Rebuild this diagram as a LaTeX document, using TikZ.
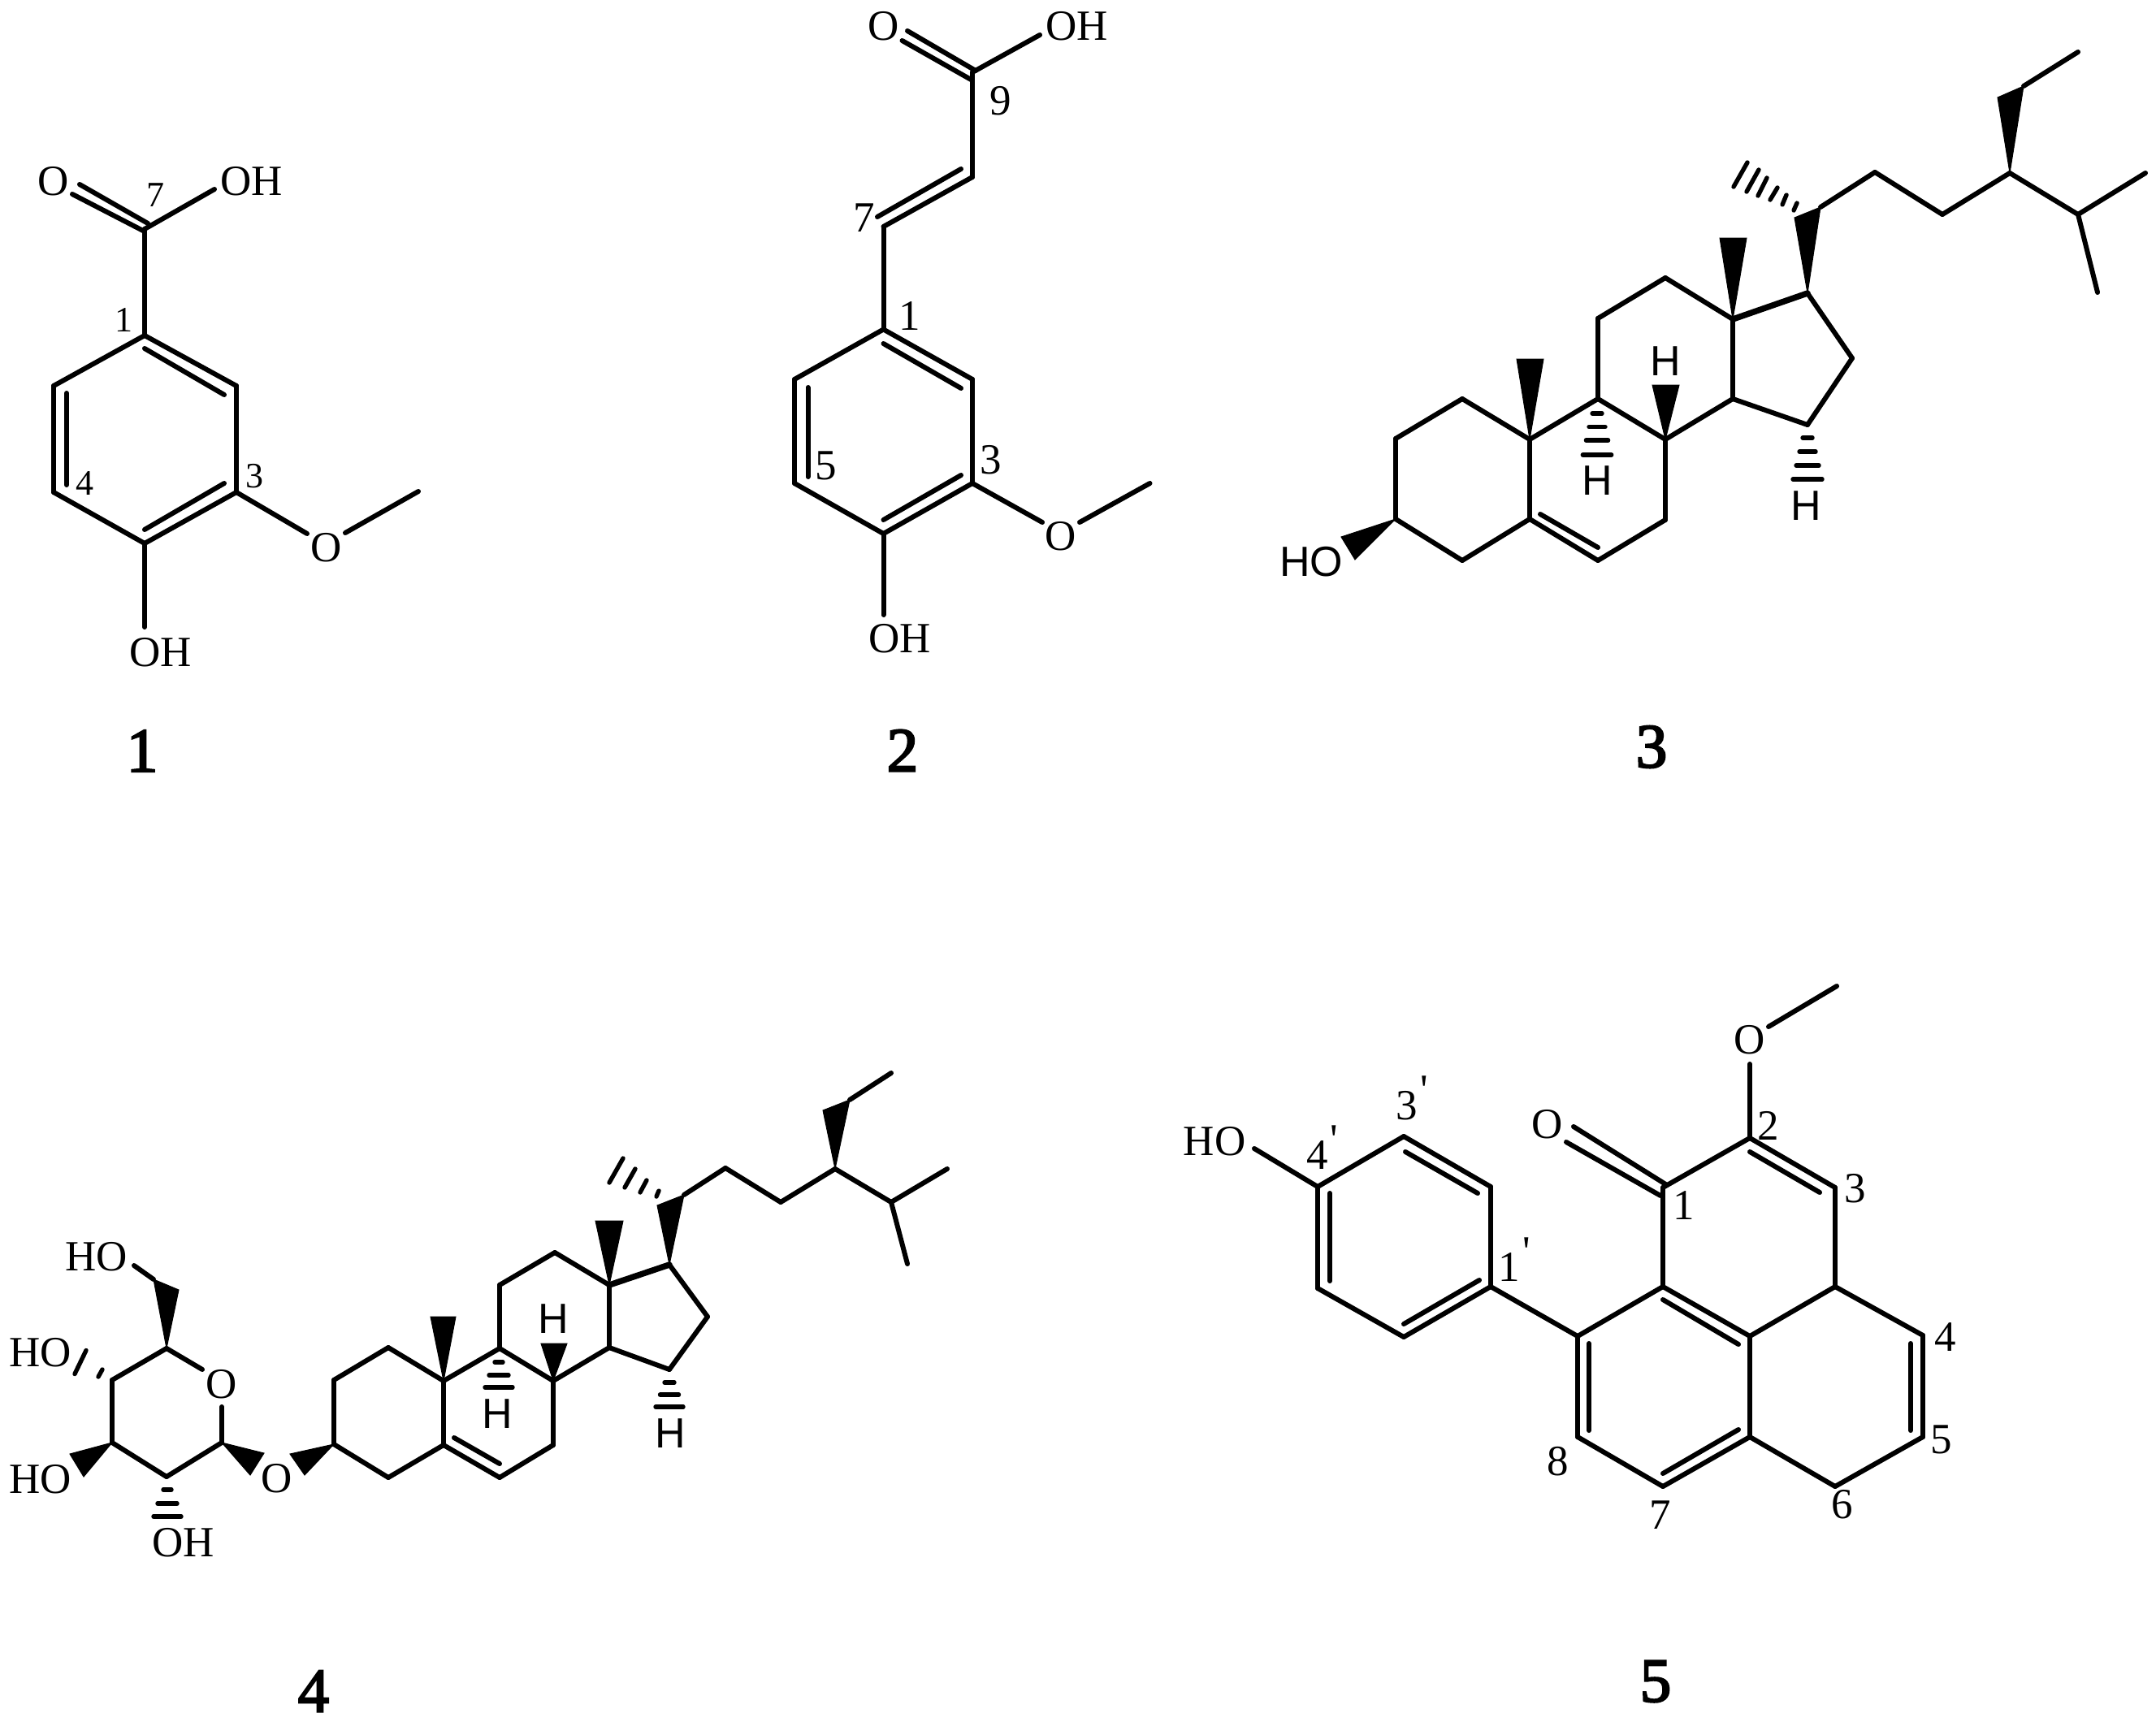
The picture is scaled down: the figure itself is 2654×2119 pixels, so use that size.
\documentclass[tikz,border=0pt]{standalone}
\usepackage{fontspec}
\setmainfont{Liberation Serif}
\newfontfamily\hfont{Liberation Sans}
\newfontfamily\idxfont[FakeBold=3]{Liberation Serif}
\newfontfamily\plainfont[Ligatures=NoCommon]{Liberation Serif}
\newcommand{\prm}{\rlap{\smash{\kern.06em\raisebox{.36em}{\plainfont\symbol{39}}}}}
\tikzset{
  bond/.style={line width=3pt,line cap=round,line join=round,black},
  thick bond/.style={line width=3.7pt,line cap=round,black},
  hash/.style={line width=2.7pt,line cap=round,black},
  wedge/.style={fill=black,draw=black,line width=0.5pt,line join=miter},
  atom/.style={inner sep=0pt,font=\fontsize{26.5}{26.5}\selectfont},
  satom/.style={inner sep=0pt,font=\hfont\fontsize{26}{26}\selectfont},
  num/.style={inner sep=0pt,font=\fontsize{26.5}{26.5}\selectfont},
  smallnum/.style={inner sep=0pt,font=\fontsize{22}{22}\selectfont},
  idx/.style={inner sep=0pt,font=\idxfont\fontsize{38.5}{38.5}\selectfont}
}
\newcommand{\coords}[1]{\foreach \n/\xx/\yy in {#1} {\coordinate (\n) at (\xx,\yy);}}
\newcommand{\bonds}[1]{\foreach \p/\q in {#1} {\draw[bond] (\p) -- (\q);}}
\newcommand{\hashes}[1]{\foreach \p/\q in {#1} {\draw[hash] (\p) -- (\q);}}
\newcommand{\wedges}[1]{\foreach \p/\q/\r in {#1} {\fill[wedge] (\p) -- (\q) -- (\r) -- cycle;}}
\begin{document}
\begin{tikzpicture}[x=0.5pt,y=-0.5pt]
\useasboundingbox (0,0) rectangle (2654,2119);
% ---------- compound 1
\coords{a7/178/282,a1/178/413,a2/291/475,a3/291/606,a4/178/669,a5/66/606,a6/66/475,
 aoa/98/227,aob/89/239,aoc/182/275,aod/178/285,aoh/264/233,
 ame1/378/657,ame2/425/656,ame3/515/605,abot/178/772,
 ai1/178/429,ai2/276/486,ai3/276/595,ai4/178/652,ai5/82/484,ai6/82/597}
\bonds{a7/a1,a1/a2,a2/a3,a3/a4,a4/a5,a5/a6,a6/a1,aoa/aoc,aob/aod,a7/aoh,a3/ame1,ame2/ame3,a4/abot,ai1/ai2,ai3/ai4,ai5/ai6}
\node[atom] (aO) at (66,223) {O};
\node[atom] (aOH) at (310,223) {OH};
\node[atom] (aOm) at (402,674) {O};
\node[atom] (aOHb) at (198,803) {OH};
\node[smallnum] (aL7) at (191,240) {7};
\node[smallnum] (aL1) at (152,394) {1};
\node[smallnum] (aL3) at (313,586) {3};
\node[smallnum] (aL4) at (104,595) {4};
\node[idx] (aI) at (175,924.5) {1};
% ---------- compound 2
\coords{b9/1197/89,b8/1197/218,b7/1087.5/279,b1/1087.5/405.5,b2/1197/467,b3/1197/595,b4/1087.5/657,b5/978/595,b6/978/467,
 boa/1117/38,bob/1110.5/50,boc/1201/87,bod/1197/99,boh/1280/43,
 bi1/1183/208,bi2/1080/267,bi3/1087.5/423,bi4/1183/478,bi5/1183/585,bi6/1087.5/640,bi7/994.5/477,bi8/994.5/587,
 bme1/1283/643,bme2/1329/643,bme3/1415.5/595,bbot/1087.5/757}
\bonds{b9/b8,b8/b7,b7/b1,b1/b2,b2/b3,b3/b4,b4/b5,b5/b6,b6/b1,boa/boc,bob/bod,b9/boh,bi1/bi2,bi3/bi4,bi5/bi6,bi7/bi8,b3/bme1,bme2/bme3,b4/bbot}
\node[atom] (bO) at (1087.5,32.5) {O};
\node[atom] (bOH) at (1325.5,32.5) {OH};
\node[atom] (bOm) at (1306,660) {O};
\node[atom] (bOHb) at (1107.5,786) {OH};
\node[num] (bL9) at (1232,124) {9};
\node[num] (bL7) at (1064,268) {7};
\node[num] (bL1) at (1120,389) {1};
\node[num] (bL3) at (1219.5,566.5) {3};
\node[num] (bL5) at (1017,573) {5};
\node[idx] (bI) at (1111,924) {2};
% ---------- compound 3
\coords{c3/1718/639,c4/1800/690,c5/1883/639,c6/1967/690,c7/2050/640,c8/2050/541,c9/1967/491,c10/1883/541,c1/1800/491,c2/1718/540,
 c11/1967/392,c12/2050/342,c13/2133/393,c14/2133/491,c15/2225/523,c16/2280/441,c17/2225/361,
 c20a/2209/268,c20b/2241/255,c22/2308/212,c23/2391/264,c24/2474/213,c25/2558/264,c26/2641/213,c27/2582/360,
 c28a/2459/120,c28b/2491/106,c29/2558/64,
 cm13a/2117/293,cm13b/2150/293,cm10a/1867/442,cm10b/1900/442,ch8a/2034/474,ch8b/2067/474,
 cho1/1651/661,cho2/1668/689,ci1/1896/633,ci2/1967/674,
 ch11/2151/200,ch12/2134/230,ch21/2165/209,ch22/2150/236,ch31/2175/219,ch32/2164/241,ch41/2188/231,ch42/2179/246,ch51/2199/240,ch52/2194/252,ch61/2212/250,ch62/2208/259,
 cu1/1960/509,cu2/1972/509,cu3/1956/525.5,cu4/1976/525.5,cu5/1952.4/542,cu6/1979.6/542,cu7/1948.3/560,cu8/1983.7/560,
 cv1/2219/539,cv2/2231/539,cv3/2215/556,cv4/2235/556,cv5/2211/573,cv6/2239/573,cv7/2207/590,cv8/2243/590}
\bonds{c3/c4,c4/c5,c5/c6,c6/c7,c7/c8,c8/c9,c9/c10,c10/c5,c10/c1,c1/c2,c2/c3,c9/c11,c11/c12,c12/c13,c13/c14,c14/c8,c14/c15,c15/c16,c16/c17,
 c20b/c22,c22/c23,c23/c24,c24/c25,c25/c26,c25/c27,c28b/c29,ci1/ci2}
\draw[thick bond] (c13) -- (c17);
\wedges{c17/c20a/c20b,c24/c28a/c28b,c13/cm13a/cm13b,c10/cm10a/cm10b,c8/ch8a/ch8b,c3/cho1/cho2}
\hashes{ch11/ch12,ch21/ch22,ch31/ch32,ch41/ch42,ch51/ch52,ch61/ch62,cu1/cu2,cu3/cu4,cu5/cu6,cu7/cu8,cv1/cv2,cv3/cv4,cv5/cv6,cv7/cv8}
\node[satom] (cHa) at (2050,445) {H};
\node[satom] (cHb) at (1966,592) {H};
\node[satom] (cHc) at (2223.5,623) {H};
\node[satom] (cHO) at (1614,692) {HO};
\node[idx] (cI) at (2033,919.5) {3};
% ---------- compound 4
\coords{d3/411/1778,d4/478/1819,d5/546/1779,d6/615/1819,d7/681/1779,d8/681/1700,d9/615/1660,d10/546/1700,d1/478/1659,d2/411/1699,
 d11/615/1582,d12/683/1542,d13/750/1582,d14/750/1659,d15/824/1686,d16/871/1621,d17/824/1557,
 d20a/809/1484,d20b/842/1471,d22/893/1438,d23/961/1480,d24/1028/1439,d25/1097/1480,d26/1166/1439,d27/1117/1556,
 d28a/1013/1367,d28b/1046/1354,d29/1097/1321,
 dm13a/733/1503,dm13b/767/1503,dm10a/530/1621,dm10b/561/1621,dh8a/666/1654,dh8b/698/1654,
 di1/559/1770,di2/615/1802,dox1/357/1790,dox2/375/1816,
 dh11/767/1426,dh12/750/1456,dh21/782/1439,dh22/769/1462,dh31/796/1453,dh32/788/1468,dh41/811/1466,dh42/808/1473,
 du1/609/1677,du2/619/1677,du3/602/1693,du4/626/1693,du5/597/1708,du6/631/1708,
 dv1/818/1702,dv2/830/1702,dv3/812.5/1717,dv4/835.5/1717,dv5/807/1732,dv6/841/1732,
 s1/273/1776,so1/273/1732,so2/249/1686,s5/205/1660,s4/138/1699,s3/138/1776,s2/205/1818,
 sw1a/325/1789,sw1b/308/1816,sw3a/86/1790,sw3b/103/1818,sw5a/189/1575,sw5b/220/1588,sch/165/1558,
 sh21/201/1834,sh22/211/1834,sh23/194/1851,sh24/218/1851,sh25/189/1867,sh26/223/1867,
 sh41/106/1662.5,sh42/92/1691.5,sh43/126/1686,sh44/121/1695}
\bonds{d3/d4,d4/d5,d5/d6,d6/d7,d7/d8,d8/d9,d9/d10,d10/d5,d10/d1,d1/d2,d2/d3,d9/d11,d11/d12,d12/d13,d13/d14,d14/d8,d14/d15,d15/d16,d16/d17,
 d20b/d22,d22/d23,d23/d24,d24/d25,d25/d26,d25/d27,d28b/d29,di1/di2,
 so1/s1,s1/s2,s2/s3,s3/s4,s4/s5,s5/so2,sw5a/sch}
\draw[thick bond] (d13) -- (d17);
\wedges{d17/d20a/d20b,d24/d28a/d28b,d13/dm13a/dm13b,d10/dm10a/dm10b,d8/dh8a/dh8b,d3/dox1/dox2,s1/sw1a/sw1b,s3/sw3a/sw3b,s5/sw5a/sw5b}
\hashes{dh11/dh12,dh21/dh22,dh31/dh32,dh41/dh42,du1/du2,du3/du4,du5/du6,dv1/dv2,dv3/dv4,dv5/dv6,sh21/sh22,sh23/sh24,sh25/sh26,sh41/sh42,sh43/sh44}
\node[satom] (dHa) at (681,1624) {H};
\node[satom] (dHb) at (612,1741) {H};
\node[satom] (dHc) at (825,1765) {H};
\node[atom] (dO) at (341,1820) {O};
\node[atom] (dOr) at (273,1704) {O};
\node[atom] (dHO1) at (119,1547) {HO};
\node[atom] (dHO2) at (50,1665) {HO};
\node[atom] (dHO3) at (50,1821) {HO};
\node[atom] (dOH4) at (226,1899) {OH};
\node[idx] (dI) at (386,2082) {4};
% ---------- compound 5
\coords{e1/2047/1462,e2/2154/1401,e3/2259/1462,e3a/2259/1584,e9/2047/1584,ec/2154/1645,e8a/1942/1645,e8/1942/1769,e7/2047/1830,e6a/2154/1769,e6/2259/1830,e5/2367/1769,e4/2367/1644,
 eoa/1937/1387,eob/1928/1406,eoc/2052/1459,eod/2044/1472,eme1/2154/1310,eme2/2177/1264,eme3/2261/1214,
 p1/1835/1584,p2/1835/1461,p3/1728/1399,p4/1622/1461,p5/1622/1586,p6/1728/1646,pho/1544/1414,
 pi1/1730/1418,pi2/1819/1469,pi3/1637/1469,pi4/1637/1577,pi5/1728/1630,pi6/1821/1576,
 ei1/2154/1418,ei2/2240/1468,ei3/2047/1600,ei4/2140/1655,ei5/1956/1654,ei6/1956/1761,ei7/2047/1814,ei8/2140/1760,ei9/2352/1654,ei10/2352/1761}
\bonds{e1/e2,e2/e3,e3/e3a,e3a/ec,ec/e9,e9/e1,e9/e8a,e8a/e8,e8/e7,e7/e6a,e6a/ec,e6a/e6,e6/e5,e5/e4,e4/e3a,eoa/eoc,eob/eod,e2/eme1,eme2/eme3,
 p1/p2,p2/p3,p3/p4,p4/p5,p5/p6,p6/p1,p1/e8a,p4/pho,pi1/pi2,pi3/pi4,pi5/pi6,ei1/ei2,ei3/ei4,ei5/ei6,ei7/ei8,ei9/ei10}
\node[atom] (eO) at (1905,1384) {O};
\node[atom] (eOm) at (2154,1280) {O};
\node[atom] (eHO) at (1495,1405) {HO};
\node[num] (eL3p) at (1732,1361) {3\prm};
\node[num] (eL4p) at (1621.5,1422) {4\prm};
\node[num] (eL1p) at (1858,1560) {1\prm};
\node[num] (eL1) at (2073,1484) {1};
\node[num] (eL2) at (2177,1386) {2};
\node[num] (eL3) at (2284,1463) {3};
\node[num] (eL4) at (2395,1646) {4};
\node[num] (eL5) at (2390,1772) {5};
\node[num] (eL6) at (2268,1852) {6};
\node[num] (eL7) at (2044,1865) {7};
\node[num] (eL8) at (1918,1799) {8};
\node[idx] (eI) at (2038,2070) {5};
\end{tikzpicture}
\end{document}
